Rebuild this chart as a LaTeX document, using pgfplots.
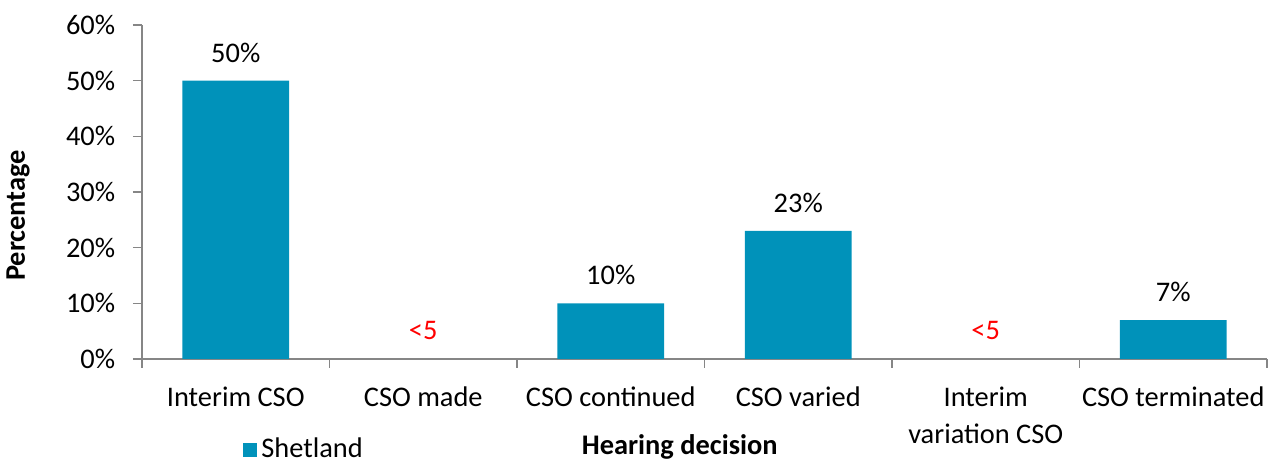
\documentclass[border=0pt]{standalone}
\usepackage{fontspec}
\setmainfont{Carlito}
\usepackage{pgfplots}
\pgfplotsset{compat=1.18}
\definecolor{barblue}{RGB}{0,146,186}
\definecolor{axisgray}{RGB}{134,134,134}
\newcommand{\cf}{\fontsize{14.2}{18.5}\selectfont}
\begin{document}
\cf
\begin{tikzpicture}
\begin{axis}[
  scale only axis, width=562.5pt, height=167pt,
  xmin=-0.5, xmax=5.5, ymin=0, ymax=60,
  axis lines*=left,
  axis line style={axisgray, line width=0.8pt},
  clip=false,
  /pgf/number format/assume math mode=true,
  ytick={0,10,...,60},
  yticklabel={\pgfmathprintnumber{\tick}\%},
  tick align=outside,
  major tick length=4.5pt,
  minor tick length=4.5pt,
  ytick style={axisgray, line width=0.8pt},
  xtick={0,...,5},
  xticklabels={Interim CSO, CSO made, CSO continued, CSO varied, {Interim\\variation CSO}, CSO terminated},
  major x tick style={draw=none},
  minor xtick={-0.5,0.5,...,5.5},
  minor x tick style={axisgray, line width=0.8pt},
  xticklabel style={align=center, anchor=north, yshift=-4.5pt, font=\cf},
  yticklabel style={xshift=-4pt, font=\cf},
  xlabel={Hearing decision},
  xlabel style={at={(rel axis cs:0.478,0)}, anchor=center, yshift=-44pt, font=\cf\bfseries},
  ylabel={Percentage},
  ylabel style={at={(rel axis cs:0,0.43)}, anchor=center, yshift=62pt, font=\cf\bfseries},
  legend style={at={(rel axis cs:0.0898,0)}, anchor=west, yshift=-45.5pt, draw=none, fill=none, inner sep=0pt, font=\cf},
]
\addplot[ybar, bar width=0.57, bar shift=0pt, fill=barblue, draw=none,
  legend image code/.code={\fill[barblue] (0pt,-3.5pt) rectangle (7pt,3.5pt);},
  nodes near coords={\pgfmathprintnumber{\pgfplotspointmeta}\%},
  every node near coord/.append style={anchor=center, yshift=14pt, text=black, font=\cf}]
  coordinates {(0,50) (2,10) (3,23) (5,7)};
\addlegendentry{Shetland}
\addplot[ybar, bar width=0.57, bar shift=0pt, draw=none, fill=none, forget plot,
  nodes near coords={<5},
  every node near coord/.append style={anchor=center, yshift=14pt, text=red, font=\cf}]
  coordinates {(1,0) (4,0)};
\coordinate (sw) at (rel axis cs:0,0);
\coordinate (ne) at (rel axis cs:1,1);
\end{axis}
\pgfresetboundingbox
\path[use as bounding box] ([xshift=-71pt,yshift=-51pt]sw) rectangle ([xshift=3.5pt,yshift=12.5pt]ne);
\end{tikzpicture}
\end{document}
